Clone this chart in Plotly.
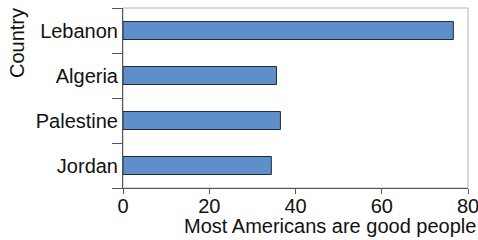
import plotly.graph_objects as go

countries = ["Jordan", "Palestine", "Algeria", "Lebanon"]
values = [34.4, 36.5, 35.6, 76.6]
x_ticks = [0, 20, 40, 60, 80]
x_title = "Most Americans are good people"
y_title = "Country"

fig = go.Figure(go.Bar(
    x=values, y=countries, orientation="h", width=0.4,
    marker=dict(color="#5f8fcb", line=dict(color="#1f2d3d", width=1)),
))

font = "Liberation Sans, Arial, Helvetica, sans-serif"
fs = 20
fig.update_layout(
    width=478, height=240,
    margin=dict(l=123, r=10, t=8, b=52),
    plot_bgcolor="white", paper_bgcolor="white",
    font=dict(family=font, size=fs, color="#111111"),
    showlegend=False,
    shapes=[dict(type="rect", xref="paper", yref="paper", x0=0, x1=1, y0=0, y1=1,
                 line=dict(color="#b4b4b4", width=1), layer="below")],
    annotations=[
        dict(text=x_title, xref="paper", yref="paper", x=0.6, y=-0.211,
             xanchor="center", yanchor="middle", showarrow=False, font=dict(size=fs)),
        dict(text=y_title, xref="paper", yref="paper", x=-0.307, y=0.806, textangle=-90,
             xanchor="center", yanchor="middle", showarrow=False, font=dict(size=fs)),
    ],
)
fig.update_xaxes(
    range=[0, 80], tickvals=x_ticks, ticks="outside", ticklen=5, tickcolor="#555555",
    showline=True, linecolor="#555555", linewidth=1, showgrid=False, zeroline=False,
    tickfont=dict(size=fs), automargin=False, ticklabeloverflow="allow",
    ticklabelstandoff=-5,
)
fig.update_yaxes(
    categoryorder="array", categoryarray=countries,
    tickson="boundaries", ticks="outside", ticklen=10, tickcolor="#555555",
    showline=True, linecolor="#555555", linewidth=1, showgrid=False,
    tickfont=dict(size=fs), automargin=False, ticklabelstandoff=0,
)
fig.write_html("out.html", post_script="document.body.style.margin='0';",
               config={"displayModeBar": False})
